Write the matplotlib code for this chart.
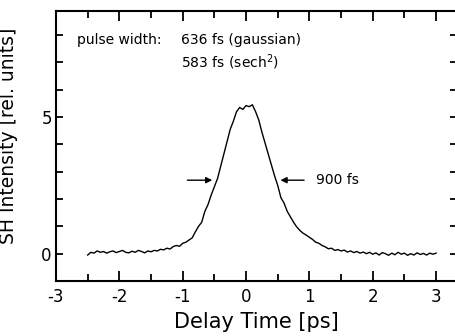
import matplotlib
matplotlib.use("Agg")
import matplotlib.pyplot as plt
import numpy as np
from matplotlib.ticker import MultipleLocator, FixedLocator

# SH autocorrelation trace, every 0.05 ps
t_start, t_end = -2.5, 3.0
intensity = [
    -0.05, 0.05, 0.02, 0.10, 0.05, 0.08, 0.02, 0.07, 0.10, 0.04,
    0.08, 0.12, 0.05, 0.03, 0.09, 0.05, 0.12, 0.08, 0.03, 0.10,
    0.07, 0.12, 0.10, 0.16, 0.14, 0.20, 0.17, 0.26, 0.30, 0.27,
    0.38, 0.42, 0.50,
    0.58, 0.80, 1.00, 1.15, 1.55, 1.80, 2.15, 2.45, 2.75, 3.20,
    3.65, 4.10, 4.55, 4.85, 5.20, 5.35, 5.28, 5.42, 5.38,
    5.45, 5.20, 4.90, 4.45, 4.05, 3.65, 3.25, 2.85, 2.50, 2.05,
    1.85, 1.55, 1.35, 1.15, 0.98, 0.85, 0.75, 0.68, 0.60,
    0.52, 0.42, 0.38, 0.30, 0.25, 0.18, 0.20, 0.12, 0.15, 0.10,
    0.13, 0.06, 0.10, 0.04, 0.08, 0.02, 0.06, 0.00, 0.05, -0.02,
    0.03, -0.05, 0.04, 0.00, -0.06, 0.02, -0.04, 0.05, -0.02, 0.02,
    -0.06, 0.00, -0.05, 0.03, -0.03, 0.01, -0.05, 0.02, -0.02, 0.02,
]
delay = np.linspace(t_start, t_end, len(intensity))

xtick_vals = [-3, -2, -1, 0, 1, 2, 3]
xtick_labels = ['-3', '-2', '-1', '0', '1', '2', '3']
ytick_vals = [0, 5]
ytick_labels = ['0', '5']

half_max = 2.69
fwhm_left, fwhm_right = -0.49, 0.50

fig = plt.figure(figsize=(4.56, 3.36), dpi=100)
ax = fig.add_axes([56 / 456, 1 - 281 / 336, 401 / 456, 270.5 / 336])

ax.plot(delay, intensity, color='black', lw=1.0)

ax.set_xlim(-3, 3.33)
ax.set_ylim(-1, 8.9)

ax.set_xticks(xtick_vals)
ax.set_xticklabels(xtick_labels)
ax.xaxis.set_minor_locator(MultipleLocator(0.5))
ax.yaxis.set_major_locator(FixedLocator(ytick_vals))
ax.set_yticklabels(ytick_labels)
ax.yaxis.set_minor_locator(MultipleLocator(1))

ax.tick_params(axis='x', which='major', direction='in', length=7, width=1.3,
               top=True, labelsize=12, pad=5)
ax.tick_params(axis='x', which='minor', direction='in', length=5, width=1.3, top=True)
ax.tick_params(axis='y', which='both', direction='in', length=5, width=1.3,
               right=True, labelsize=12, pad=3)

for s in ax.spines.values():
    s.set_linewidth(1.5)

ax.set_xlabel('Delay Time [ps]', fontsize=15, labelpad=4)
ax.set_ylabel('SH Intensity [rel. units]', fontsize=13.5)
ax.yaxis.set_label_coords(-0.095, 0.535)

ax.text(-2.675, 7.82, 'pulse width:', fontsize=10, va='center', ha='left')
ax.text(-1.03, 7.82, '636 fs (gaussian)', fontsize=10, va='center', ha='left')
ax.text(-1.03, 7.02, '583 fs (sech$^2$)', fontsize=10, va='center', ha='left')
ax.text(1.10, half_max, '900 fs', fontsize=10, va='center', ha='left')

arrow = dict(arrowstyle='-|>', color='black', lw=1.0, mutation_scale=9)
ax.annotate('', xy=(fwhm_left, half_max), xytext=(-0.97, half_max), arrowprops=arrow)
ax.annotate('', xy=(fwhm_right, half_max), xytext=(0.96, half_max), arrowprops=arrow)

fig.savefig('out.png', dpi=100)
